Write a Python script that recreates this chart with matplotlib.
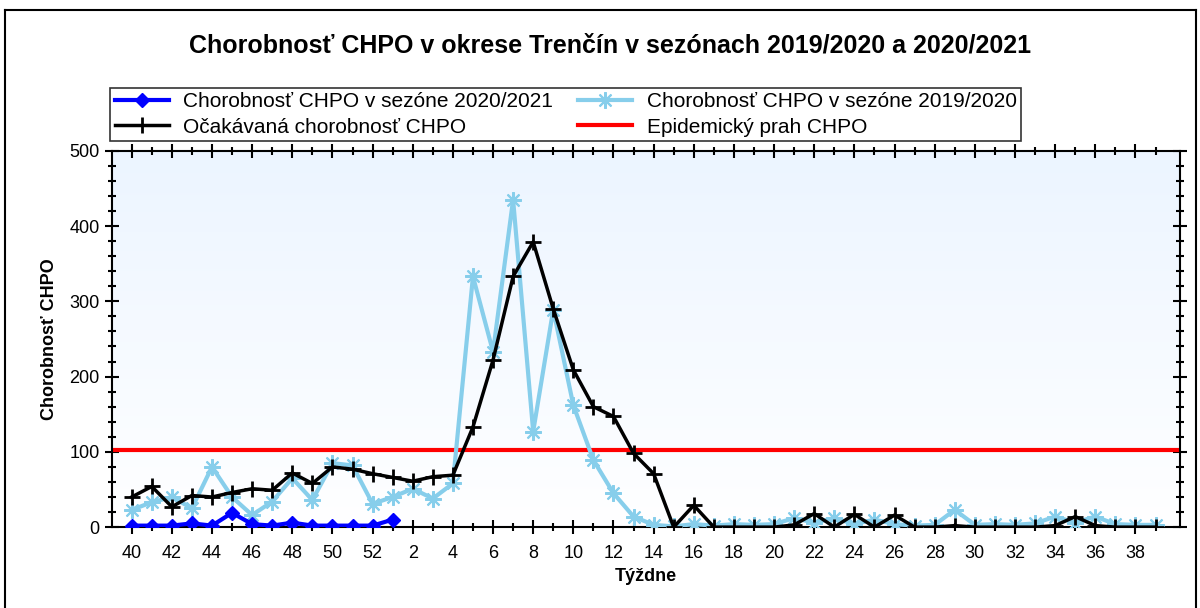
import numpy as np
import matplotlib
matplotlib.use('Agg')
import matplotlib.pyplot as plt
from matplotlib.lines import Line2D
from matplotlib.ticker import MultipleLocator, FixedLocator

plt.rcParams['font.family'] = ['Liberation Sans', 'DejaVu Sans']

# weeks of the season, 40..52 then 1..39
weeks = list(range(40, 53)) + list(range(1, 40))

season_2020 = [2, 2, 2, 5, 2, 19, 4, 2, 6, 2, 2, 2, 2, 10]

expected = [40, 54, 27, 42, 40, 46, 51, 49, 72, 58, 80, 77, 71, 66, 61, 67, 69,
            133, 222, 333, 379, 290, 209, 160, 147, 98, 71, 0, 29, 0, 0, 0, 0,
            3, 18, 0, 17, 0, 16, 0, 0, 2, 0, 0, 0, 0, 2, 14, 2, 0, 0, 0]

season_2019 = [23, 33, 40, 25, 80, 40, 16, 34, 65, 36, 85, 82, 31, 40, 51, 38, 58,
               333, 233, 435, 127, 289, 162, 89, 45, 14, 3, 1, 4, 2, 4, 3, 4,
               12, 6, 12, 4, 10, 4, 2, 3, 23, 3, 4, 3, 5, 14, 6, 14, 4, 3, 3]

threshold = 102

x = np.arange(len(weeks))

fig = plt.figure(figsize=(12, 6.08), dpi=100)
ax = fig.add_axes([0.093, 0.133, 0.890, 0.619])

# light blue to white gradient background
grad = np.linspace(0, 1, 256).reshape(-1, 1)
top = np.array([0.925, 0.96, 1.0])
bot = np.array([1.0, 1.0, 1.0])
img = top * (1 - grad)[..., None] + bot * grad[..., None]
img = img.reshape(256, 1, 3)
ax.imshow(img, extent=[0, 1, 0, 1], transform=ax.transAxes, aspect='auto', zorder=0)

l_red = ax.axhline(threshold, color='#ff0000', lw=3, zorder=2, label='Epidemický prah CHPO')
l_lb, = ax.plot(x, season_2019, color='#87ceeb', lw=3, marker=(8, 2, 0), ms=12, mew=1.5,
                zorder=3, label='Chorobnosť CHPO v sezóne 2019/2020')
l_k, = ax.plot(x, expected, color='black', lw=2.5, marker='+', ms=11, mew=2,
               zorder=4, label='Očakávaná chorobnosť CHPO')
l_b, = ax.plot(x[:len(season_2020)], season_2020, color='#0000ff', lw=3, marker='D', ms=7,
               zorder=5, label='Chorobnosť CHPO v sezóne 2020/2021')

ax.set_xlim(-1, 52.2)
ax.set_ylim(0, 500)

ax.xaxis.set_major_locator(FixedLocator(x[::2]))
ax.set_xticklabels([str(w) for w in weeks[::2]])
ax.xaxis.set_minor_locator(FixedLocator(x))
ax.yaxis.set_major_locator(MultipleLocator(100))
ax.yaxis.set_minor_locator(MultipleLocator(20))

ax.tick_params(axis='x', which='both', direction='inout', top=True, labelsize=13, pad=8)
ax.tick_params(axis='y', which='both', direction='inout', right=True, labelsize=13)
ax.tick_params(which='major', length=10, width=1.5)
ax.tick_params(which='minor', length=6, width=1.5)
for s in ax.spines.values():
    s.set_linewidth(1.5)

ax.set_xlabel('Týždne', fontsize=13, fontweight='bold', labelpad=4)
ax.set_ylabel('Chorobnosť CHPO', fontsize=13, fontweight='bold', labelpad=8)

fig.text(0.508, 0.925, 'Chorobnosť CHPO v okrese Trenčín v sezónach 2019/2020 a 2020/2021',
         ha='center', va='center', fontsize=18, fontweight='bold')

leg = fig.legend([l_b, l_k, l_lb, l_red],
                 [l_b.get_label(), l_k.get_label(), l_lb.get_label(), l_red.get_label()],
                 ncol=2, loc='upper left', bbox_to_anchor=(0.092, 0.855), borderaxespad=0,
                 frameon=True, fancybox=False, edgecolor='black', fontsize=15,
                 handlelength=2.6, columnspacing=1.2, labelspacing=0.3,
                 borderpad=0.2, handletextpad=0.7)
leg.get_frame().set_linewidth(1.2)

# outer frame of the picture
fig.add_artist(Line2D([0.004, 0.004], [0.0, 0.984], color='black', lw=1.5))
fig.add_artist(Line2D([0.004, 0.997], [0.984, 0.984], color='black', lw=1.5))
fig.add_artist(Line2D([0.997, 0.997], [0.0, 0.984], color='black', lw=1.5))

fig.savefig('out.png', dpi=100)
